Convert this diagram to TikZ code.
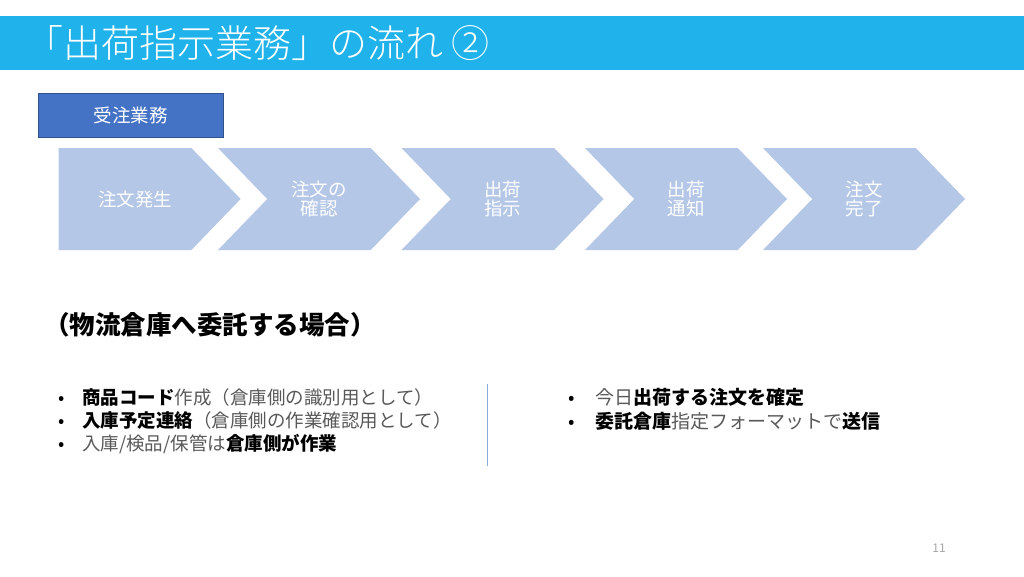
\documentclass[tikz,border=0pt]{standalone}
\usepackage{fontspec}
\setmainfont{Noto Sans CJK JP}
\newfontfamily\lightfont{Noto Sans CJK JP Light}
\usepackage{xcolor}
\usepackage{tikz}
\usetikzlibrary{shapes.symbols, positioning}
\definecolor{titlecyan}{HTML}{1FB2EB}
\definecolor{taskblue}{HTML}{4472C4}
\definecolor{taskedge}{HTML}{2F528F}
\definecolor{chevblue}{HTML}{B4C7E7}
\definecolor{bodygray}{HTML}{595959}
\definecolor{divblue}{HTML}{8FAADC}
\definecolor{pagegray}{HTML}{A6A6A6}
\newcommand{\emphb}[1]{{\bfseries\color{black}#1}}
\newcommand{\dotb}[1]{\makebox[#1][l]{\color{black}•}}
\tikzstyle{titlebar} = [rectangle, fill=titlecyan, minimum width=1024pt, minimum height=54pt, inner sep=0pt, anchor=north west]
\tikzstyle{taskbox} = [rectangle, draw=taskedge, fill=taskblue, minimum width=185pt, minimum height=44pt, text=white, font=\fontsize{18.5}{20}\selectfont]
\tikzstyle{chevron} = [signal, signal to=east, signal from=west, signal pointer angle=92, fill=chevblue, minimum width=202pt, minimum height=102pt, inner sep=0pt, text=white, align=center, font=\fontsize{18.5}{19.5}\selectfont]
\tikzstyle{bullet} = [anchor=west, inner sep=0pt, text=bodygray, font=\fontsize{18.5}{23}\selectfont]

\begin{document}
\begin{tikzpicture}[x=1pt, y=-1pt]
    \useasboundingbox (0,0) rectangle (1024,576);
    \fill[white] (0,0) rectangle (1024,576);

    % Title
    \node (bar) [titlebar] at (0,16) {};
    \node (title) [anchor=west, inner sep=0pt, text=white, font=\fontsize{38}{42}\lightfont] at (25,43) {「出荷指示業務」の流れ ②};

    % Order task
    \node (task) [taskbox] at (130.5,115) {受注業務};

    % Steps
    \node (step1) [chevron, signal from=nowhere, minimum width=182pt] at (125,199) {\hspace{20pt}注文発生};
    \node (step2) [chevron] at (319,199) {注文の\\確認};
    \node (step3) [chevron] at (502.5,199) {出荷\\指示};
    \node (step4) [chevron] at (686,199) {出荷\\通知};
    \node (step5) [chevron] at (864,199) {注文\\完了};

    % Warehouse case
    \node (case) [anchor=west, inner sep=0pt, font=\fontsize{25.5}{28}\selectfont\bfseries] at (44,325) {（物流倉庫へ委託する場合）};

    % Before shipping
    \node (prep1) [bullet] at (58,397) {\dotb{24pt}\emphb{商品コード}作成（倉庫側の識別用として）};
    \node (prep2) [bullet] at (58,421) {\dotb{24pt}\emphb{入庫予定連絡}（倉庫側の作業確認用として）};
    \node (prep3) [bullet] at (58,444) {\dotb{24pt}入庫/検品/保管は\emphb{倉庫側が作業}};

    % Divider
    \coordinate (divtop) at (487,384);
    \coordinate (divbot) at (487,466);
    \draw [divblue, line width=1pt] (divtop) -- (divbot);

    % Shipping day
    \node (ship1) [bullet, font=\fontsize{19}{23}\selectfont] at (568,397) {\dotb{27pt}今日\emphb{出荷する注文を確定}};
    \node (ship2) [bullet, font=\fontsize{19}{23}\selectfont] at (568,421) {\dotb{27pt}\emphb{委託倉庫}指定フォーマットで\emphb{送信}};

    % Page number
    \node (page) [text=pagegray, font=\fontsize{12}{14}\selectfont] at (939,548) {11};
\end{tikzpicture}
\end{document}
